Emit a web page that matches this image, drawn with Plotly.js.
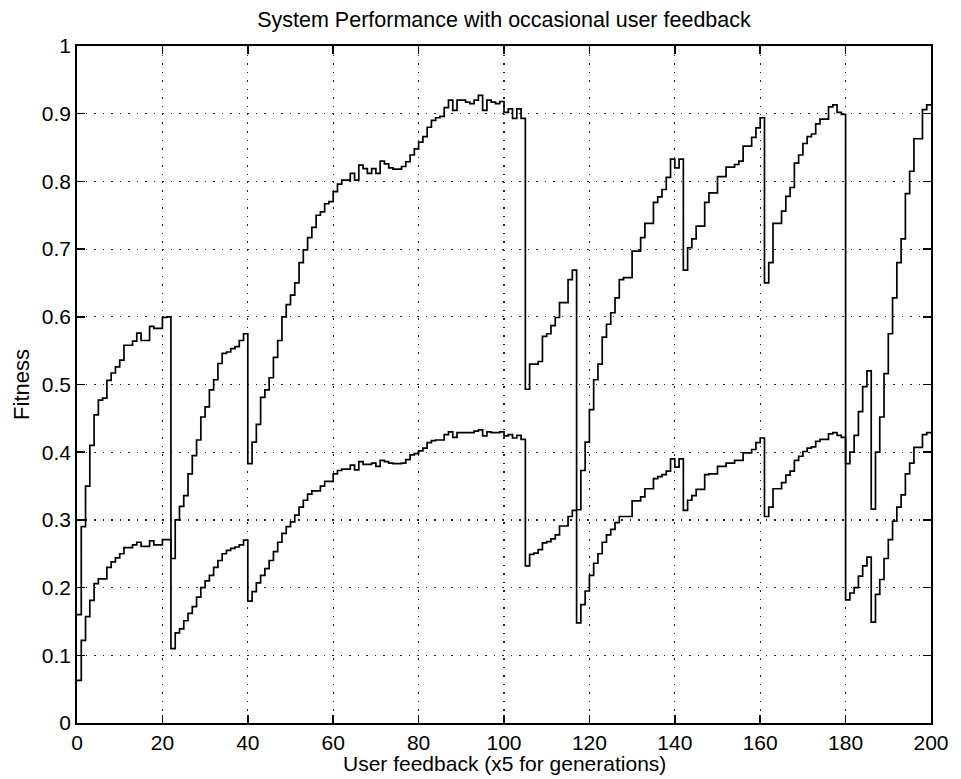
<!DOCTYPE html>
<html>
<head>
<meta charset="utf-8">
<script src="https://cdn.plot.ly/plotly-3.0.1.min.js"></script>
<style>
html,body{margin:0;padding:0;background:#fff;}
#chart{width:961px;height:779px;}
</style>
</head>
<body>
<div id="chart"></div>
<script>
// Fitness per user-feedback step (x = 0..200)
const upperFitness = [
  0.160,0.290,0.350,0.410,0.455,0.477,0.480,0.506,0.517,0.526,
  0.536,0.558,0.558,0.564,0.576,0.565,0.565,0.586,0.583,0.583,
  0.599,0.600,0.243,0.300,0.320,0.336,0.368,0.395,0.418,0.452,
  0.467,0.492,0.507,0.531,0.546,0.548,0.553,0.556,0.565,0.575,
  0.383,0.415,0.441,0.481,0.492,0.510,0.540,0.565,0.600,0.618,
  0.632,0.650,0.680,0.699,0.717,0.732,0.750,0.755,0.767,0.770,
  0.785,0.796,0.802,0.802,0.812,0.802,0.824,0.819,0.812,0.819,
  0.812,0.830,0.826,0.820,0.818,0.818,0.822,0.829,0.839,0.848,
  0.858,0.866,0.880,0.890,0.894,0.896,0.909,0.920,0.905,0.920,
  0.920,0.917,0.915,0.920,0.927,0.905,0.920,0.917,0.915,0.918,
  0.902,0.907,0.893,0.907,0.893,0.493,0.530,0.530,0.534,0.571,
  0.575,0.587,0.599,0.621,0.621,0.655,0.669,0.315,0.373,0.415,
  0.463,0.507,0.530,0.570,0.589,0.606,0.628,0.655,0.658,0.658,
  0.697,0.697,0.717,0.738,0.738,0.769,0.777,0.788,0.806,0.833,
  0.820,0.833,0.669,0.702,0.715,0.734,0.734,0.769,0.783,0.783,
  0.807,0.807,0.821,0.821,0.825,0.830,0.852,0.852,0.865,0.879,
  0.894,0.650,0.680,0.738,0.738,0.756,0.778,0.791,0.827,0.839,
  0.856,0.866,0.870,0.885,0.892,0.892,0.910,0.913,0.902,0.899,
  0.383,0.400,0.425,0.460,0.497,0.520,0.316,0.400,0.452,0.516,
  0.575,0.628,0.680,0.715,0.782,0.815,0.863,0.863,0.906,0.913,
  0.913
];
const lowerFitness = [
  0.063,0.122,0.157,0.181,0.206,0.213,0.213,0.230,0.238,0.244,
  0.250,0.259,0.259,0.263,0.267,0.261,0.261,0.269,0.263,0.263,
  0.271,0.271,0.110,0.133,0.139,0.151,0.162,0.172,0.186,0.200,
  0.210,0.218,0.230,0.240,0.250,0.255,0.258,0.260,0.263,0.270,
  0.180,0.194,0.207,0.218,0.228,0.240,0.253,0.267,0.280,0.290,
  0.297,0.307,0.319,0.329,0.338,0.343,0.343,0.350,0.357,0.357,
  0.368,0.373,0.375,0.375,0.381,0.374,0.386,0.382,0.382,0.384,
  0.379,0.388,0.386,0.384,0.383,0.383,0.384,0.389,0.396,0.398,
  0.402,0.406,0.414,0.417,0.418,0.418,0.426,0.430,0.422,0.429,
  0.429,0.429,0.429,0.431,0.433,0.424,0.430,0.429,0.429,0.430,
  0.424,0.426,0.421,0.425,0.419,0.232,0.249,0.251,0.256,0.266,
  0.268,0.272,0.278,0.291,0.291,0.305,0.314,0.148,0.175,0.195,
  0.218,0.236,0.250,0.267,0.278,0.286,0.296,0.305,0.305,0.305,
  0.328,0.328,0.334,0.346,0.346,0.361,0.364,0.367,0.372,0.390,
  0.378,0.390,0.314,0.329,0.336,0.345,0.345,0.367,0.368,0.368,
  0.379,0.379,0.384,0.384,0.388,0.388,0.399,0.399,0.404,0.414,
  0.421,0.305,0.319,0.346,0.346,0.355,0.366,0.372,0.388,0.394,
  0.401,0.406,0.408,0.416,0.419,0.419,0.427,0.429,0.425,0.422,
  0.182,0.192,0.200,0.217,0.232,0.245,0.149,0.190,0.212,0.243,
  0.271,0.298,0.319,0.337,0.368,0.384,0.407,0.407,0.426,0.429,
  0.429
];
const xTicks = [0, 20, 40, 60, 80, 100, 120, 140, 160, 180, 200];
const yTicks = [0, 0.1, 0.2, 0.3, 0.4, 0.5, 0.6, 0.7, 0.8, 0.9, 1];
const yTickText = ['0','0.1','0.2','0.3','0.4','0.5','0.6','0.7','0.8','0.9','1'];

const feedbackIndex = upperFitness.map((_, i) => i);

const lineStyle = {color: '#000', width: 1.7, shape: 'hv'};
const traces = [
  {x: feedbackIndex, y: upperFitness, type: 'scatter', mode: 'lines', line: lineStyle, name: 'best', hoverinfo: 'x+y'},
  {x: feedbackIndex, y: lowerFitness, type: 'scatter', mode: 'lines', line: lineStyle, name: 'average', hoverinfo: 'x+y'}
];

const fontFamily = 'Liberation Sans, Arial, Helvetica, sans-serif';
const axisCommon = {
  showline: true, linecolor: '#000', linewidth: 1.8, mirror: 'allticks',
  ticks: 'inside', ticklen: 8, tickwidth: 1.5, tickcolor: '#000',
  showgrid: true, gridcolor: '#222', gridwidth: 1.2, griddash: '1.5px,7px',
  zeroline: false, tickfont: {family: fontFamily, size: 21, color: '#000'},
  automargin: false
};

const layout = {
  width: 961, height: 779,
  paper_bgcolor: '#fff', plot_bgcolor: '#fff',
  margin: {l: 77, r: 30, t: 46, b: 56},
  showlegend: false,
  font: {family: fontFamily, color: '#000'},
  title: {
    text: 'System Performance with occasional user feedback',
    font: {family: fontFamily, size: 21.5, color: '#000'},
    x: 0.5, xref: 'paper', xanchor: 'center',
    y: 0.9756, yref: 'container', yanchor: 'middle'
  },
  xaxis: Object.assign({}, axisCommon, {
    range: [0, 200], tickmode: 'array', tickvals: xTicks
  }),
  yaxis: Object.assign({}, axisCommon, {
    range: [0, 1], tickmode: 'array', tickvals: yTicks, ticktext: yTickText,
    title: {text: 'Fitness', font: {family: fontFamily, size: 22, color: '#000'}, standoff: 6}
  }),
  annotations: [{
    text: 'User feedback (x5 for generations)',
    xref: 'paper', yref: 'paper', x: 0.5, y: 0,
    xanchor: 'center', yanchor: 'top', yshift: -27, showarrow: false,
    font: {family: fontFamily, size: 21, color: '#000'}
  }]
};

Plotly.newPlot('chart', traces, layout, {displayModeBar: false, staticPlot: true});
</script>
</body>
</html>
